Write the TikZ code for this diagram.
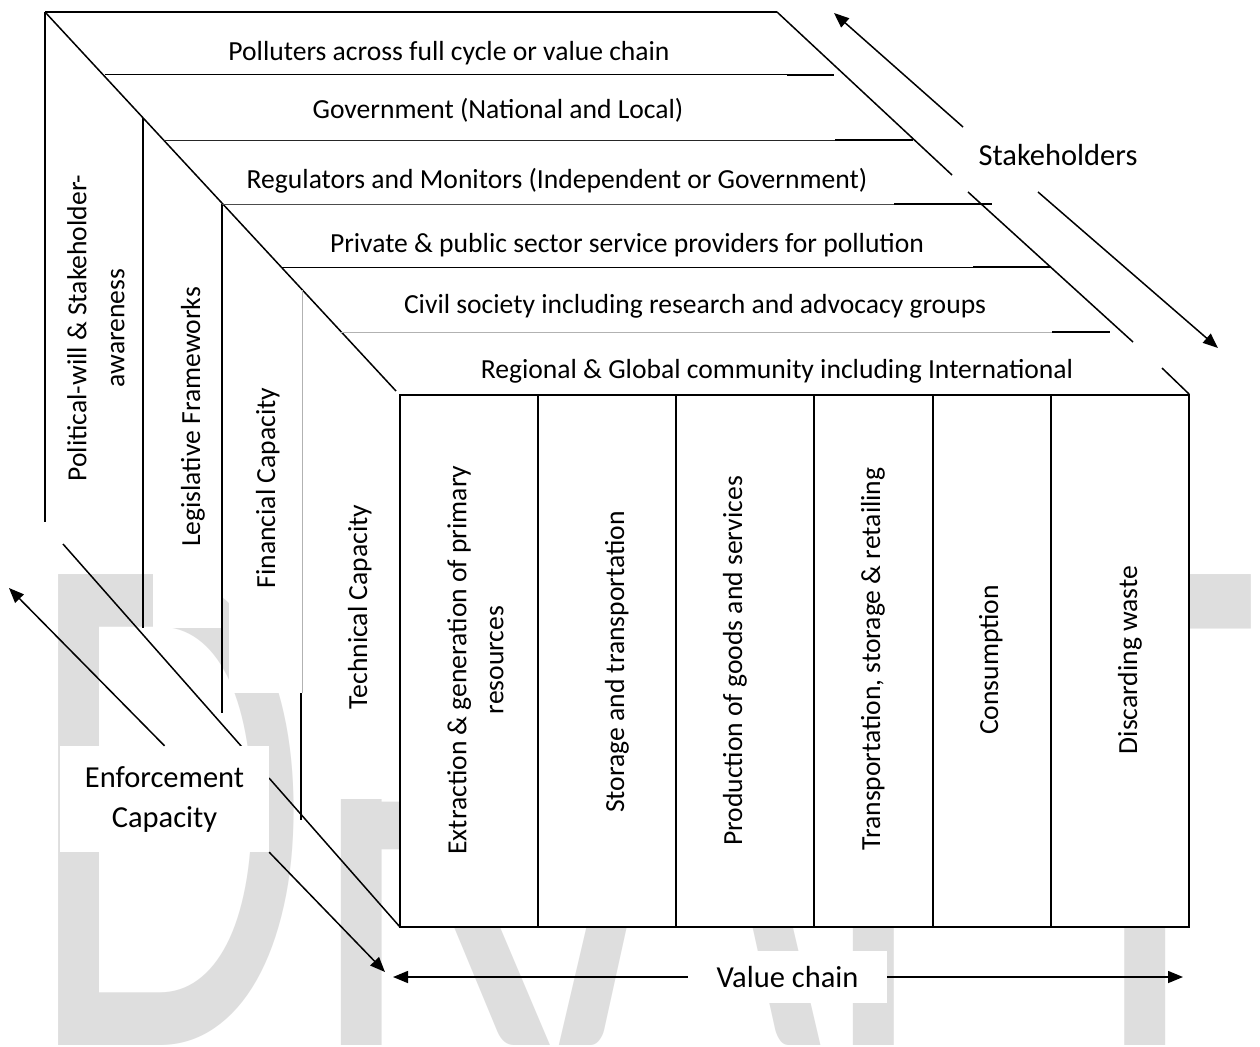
\documentclass[tikz,border=0pt]{standalone}
\usepackage{graphicx}
\usepackage{fontspec}
\setmainfont{Carlito}
\usetikzlibrary{arrows.meta}
\begin{document}
\begin{tikzpicture}[x=1pt,y=-1pt,
  lbl/.style={inner sep=0pt, font=\fontsize{27.6}{33}\selectfont},
  hlbl/.style={lbl, anchor=base},
  vlbl/.style={lbl, rotate=90, anchor=base},
  bigtxt/.style={inner sep=0pt, font=\fontsize{30.5}{40}\selectfont},
  cover/.style={fill=white, draw=none},
  thinln/.style={line width=1pt},
  thickln/.style={line width=2pt},
  edgeln/.style={line width=1.5pt},
  arr/.style={line width=1.5pt, -{Triangle[length=15pt,width=12pt]}},
  wm/.style={inner sep=0pt, anchor=base west, text=black!13},
]
\useasboundingbox (0,0) rectangle (1260,1046);
\fill[white] (0,0) rectangle (1260,1046);
% watermark
\node[wm] (wm) at (27,1045) {\scalebox{0.624}[1]{\fontsize{734}{734}\selectfont DRAFT}};
% white text-box areas covering the watermark
\fill[cover] (153,118) rectangle (222,628);
\fill[cover] (229,204) rectangle (302,693);
\fill[cover] (305,290) rectangle (400,799);
% front box
\draw[thickln, fill=white] (400,395) rectangle (1189,927);
\foreach \xx in {538,676,814,933,1051} \draw[thickln] (\xx,395) -- (\xx,927);
% outer edges
\draw[edgeln] (45,12) -- (777,12);
\draw[edgeln] (45,12) -- (396,391);
\draw[edgeln] (45,12) -- (45,522);
\draw[edgeln] (143,118) -- (143,628);
\draw[edgeln] (222,204) -- (222,713);
\draw[thinln, black!30] (302,290) -- (302,693);
\draw[edgeln] (301,693) -- (301,820);
\draw[edgeln] (63,544) -- (242,747);
\draw[edgeln] (269,778) -- (400,927);
% right diagonal
\draw[edgeln] (777,12) -- (952,175);
\draw[edgeln] (968,192) -- (1133,342);
\draw[edgeln] (1162,368) -- (1189,394);
% band lines
\draw[thinln] (105,75) -- (787,75);
\draw[thickln] (787,75) -- (834,75);
\draw[thinln, black!85] (163,140) -- (835,140);
\draw[thickln] (835,139.5) -- (913,139.5);
\draw[thinln, black!70] (222,204) -- (894,204);
\draw[thickln] (894,203.5) -- (992,203.5);
\draw[thinln] (282,267) -- (973,267);
\draw[thickln] (973,267) -- (1050,267);
\draw[thinln, black!30] (340,332) -- (1052,332);
\draw[thickln] (1052,331.5) -- (1110,331.5);
% band labels
\node[hlbl] (b1) at (449,61) {Polluters across full cycle or value chain};
\node[hlbl] (b2) at (498,119) {Government (National and Local)};
\node[hlbl] (b3) at (557,188) {Regulators and Monitors (Independent or Government)};
\node[hlbl] (b4) at (627,252) {Private \& public sector service providers for pollution};
\node[hlbl] (b5) at (695,313) {Civil society including research and advocacy groups};
\node[hlbl] (b6) at (777,378) {Regional \& Global community including International};
% left panel labels
\node[lbl, rotate=90, align=center, font=\fontsize{27.6}{38}\selectfont] (pol) at (96,328) {Political-will \& Stakeholder-\\awareness};
\node[vlbl] (leg) at (200,417) {Legislative Frameworks};
\node[vlbl] (fin) at (275,488) {Financial Capacity};
\node[vlbl] (tech) at (367,607) {Technical Capacity};
% value chain columns
\node[lbl, rotate=90, align=center, font=\fontsize{27.6}{37}\selectfont] (c1) at (475.5,660) {Extraction \& generation of primary\\resources};
\node[vlbl] (c2) at (624,662) {Storage and transportation};
\node[vlbl] (c3) at (742,661) {Production of goods and services};
\node[vlbl] (c4) at (880,659) {Transportation, storage \& retailing};
\node[vlbl] (c5) at (998,660) {Consumption};
\node[vlbl] (c6) at (1137,660) {Discarding waste};
% stakeholders
\node[bigtxt, anchor=base] (stk) at (1058,165) {Stakeholders};
\coordinate (stkA) at (963,127);
\coordinate (stkAend) at (834,13);
\coordinate (stkB) at (1038,192);
\coordinate (stkBend) at (1218,348);
\draw[arr] (stkA) -- (stkAend);
\draw[arr] (stkB) -- (stkBend);
% enforcement
\node[bigtxt, cover, minimum width=209pt, minimum height=106pt, align=center] (enf) at (164.5,799) {Enforcement\\Capacity};
\coordinate (enfA) at (9,588);
\coordinate (enfB) at (385,972);
\draw[arr] (enf.north) -- (enfA);
\draw[arr] (enf.south east) -- (enfB);
% value chain
\node[bigtxt, cover, minimum width=199pt, minimum height=52pt] (vc) at (787.5,977) {Value chain};
\coordinate (vcA) at (393,977);
\coordinate (vcB) at (1183,977);
\draw[arr] (vc.west) -- (vcA);
\draw[arr] (vc.east) -- (vcB);
\end{tikzpicture}
\end{document}
